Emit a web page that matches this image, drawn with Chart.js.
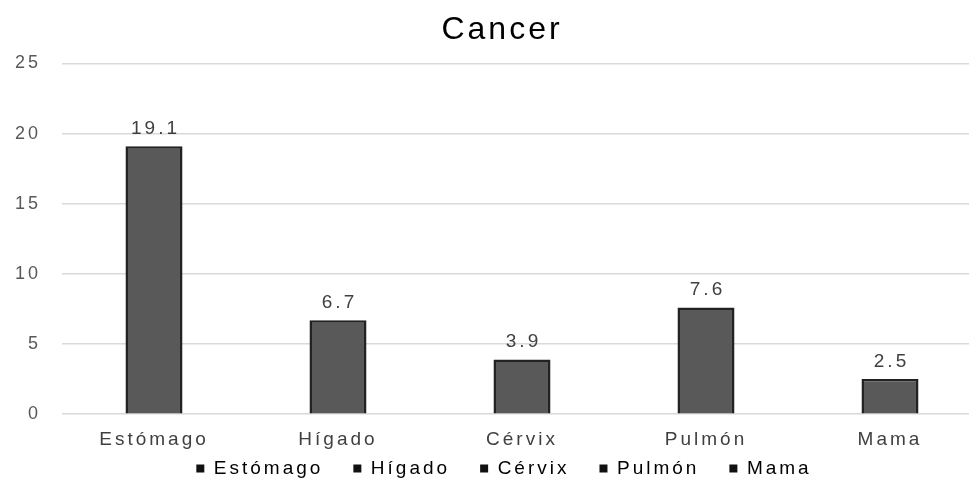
<!DOCTYPE html>
<html>
<head>
<meta charset="utf-8">
<script src="https://cdn.jsdelivr.net/npm/chart.js@4/dist/chart.umd.min.js"></script>
<style>
  html, body { margin: 0; padding: 0; background: #ffffff; overflow: hidden; }
  #wrap { width: 969px; height: 479px; overflow: hidden; }
</style>
</head>
<body>
<div id="wrap"><canvas id="chart" width="1005" height="479"></canvas></div>
<script>
// Cancer cases by site
const categories = ['Estómago', 'Hígado', 'Cérvix', 'Pulmón', 'Mama'];
const values = [19.1, 6.7, 3.9, 7.6, 2.5];
const yTicks = [0, 5, 10, 15, 20, 25];

const FONT = '"Liberation Sans", Arial, sans-serif';
const SPACING = '3px';

// Wide tracking for every text on the canvas
const tracking = {
  id: 'tracking',
  beforeUpdate(chart) { chart.ctx.letterSpacing = SPACING; },
  beforeLayout(chart) { chart.ctx.letterSpacing = SPACING; },
  beforeDraw(chart) { chart.ctx.letterSpacing = SPACING; }
};

// Nudges the title and legend blocks after the layout pass
const blockOffsets = {
  id: 'blockOffsets',
  afterLayout(chart) {
    const t = chart.titleBlock, l = chart.legend;
    t.left += 8; t.right += 8;
    l.left += 10; l.right += 10;
    l.top -= 28;
    l.bottom = chart.height;
  }
};

// Draws each bar's value just above it
const valueLabels = {
  id: 'valueLabels',
  afterDatasetsDraw(chart) {
    const ctx = chart.ctx;
    const meta = chart.getDatasetMeta(0);
    ctx.save();
    ctx.font = '19px ' + FONT;
    ctx.fillStyle = '#404040';
    ctx.textAlign = 'center';
    ctx.textBaseline = 'bottom';
    meta.data.forEach((bar, i) => {
      ctx.fillText(values[i].toFixed(1), bar.x + 1.5, bar.y - 8);
    });
    ctx.restore();
  }
};

new Chart(document.getElementById('chart'), {
  type: 'bar',
  data: {
    labels: categories,
    datasets: [{
      label: 'Cancer',
      data: values,
      backgroundColor: '#595959',
      borderColor: '#222222',
      borderWidth: 2.5,
      barPercentage: 0.5,
      categoryPercentage: 0.62
    }]
  },
  options: {
    responsive: false,
    animation: false,
    layout: { padding: { left: 6, right: 23, top: 9, bottom: 0 } },
    plugins: {
      title: {
        display: true,
        text: 'Cancer',
        color: '#000000',
        font: { family: FONT, size: 32, weight: 'normal' },
        padding: { top: 2, bottom: 14 }
      },
      legend: {
        display: true,
        position: 'bottom',
        maxHeight: 22,
        labels: {
          color: '#404040',
          font: { family: FONT, size: 19 },
          boxWidth: 8,
          boxHeight: 8,
          padding: 30,
          generateLabels() {
            return categories.map(c => ({
              text: c,
              fillStyle: '#111111',
              strokeStyle: '#111111',
              lineWidth: 0,
              hidden: false,
              datasetIndex: 0
            }));
          }
        },
        onClick() {}
      },
      tooltip: { enabled: false }
    },
    scales: {
      x: {
        grid: { display: false },
        border: { display: false },
        ticks: { color: '#404040', font: { family: FONT, size: 19 }, padding: 6 }
      },
      y: {
        min: 0,
        max: 25,
        afterBuildTicks(scale) { scale.ticks = yTicks.map(v => ({ value: v })); },
        afterFit(scale) { scale.width = 56; },
        grid: { color: '#d9d9d9', lineWidth: 1.5, drawTicks: false },
        border: { display: false },
        ticks: { color: '#595959', font: { family: FONT, size: 18 }, padding: 21 }
      }
    }
  },
  plugins: [tracking, blockOffsets, valueLabels]
});
</script>
</body>
</html>
